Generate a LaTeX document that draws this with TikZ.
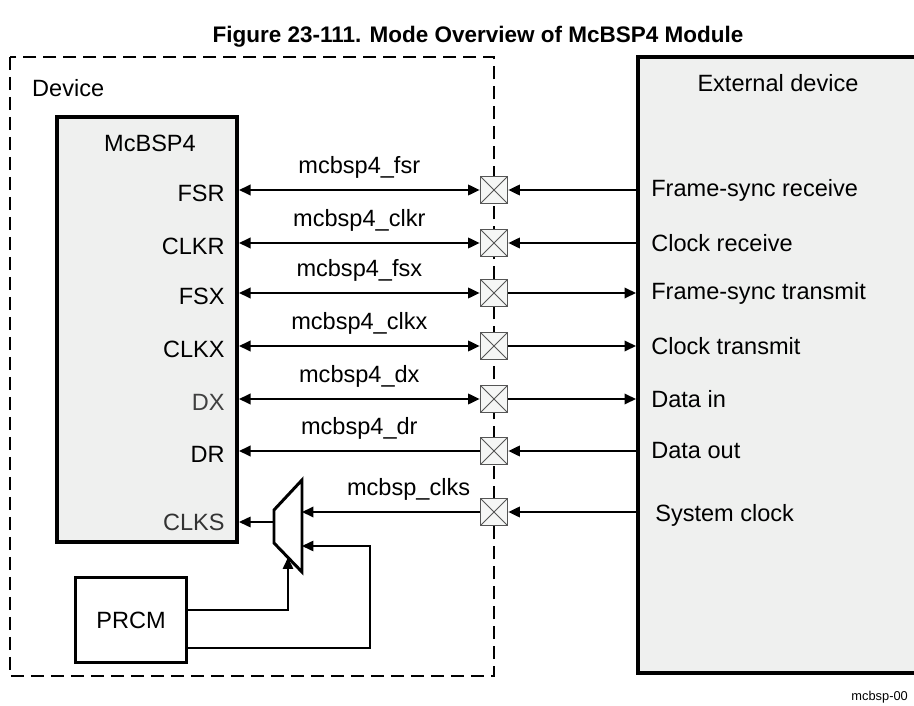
\documentclass[tikz,border=0pt]{standalone}
\usepackage{fontspec}
\setmainfont{Liberation Sans}
\usetikzlibrary{arrows.meta, positioning}
\definecolor{boxgray}{RGB}{239,240,239}
\definecolor{padgray}{RGB}{85,85,85}
\tikzset{
  sig/.style={line width=1.1pt},
  feed/.style={line width=0.85pt},
  pad/.style={draw=padgray, fill=boxgray!60, line width=0.7pt, minimum size=0.55cm, inner sep=0pt,
    path picture={\draw[padgray, line width=0.5pt]
      (path picture bounding box.north west) -- (path picture bounding box.south east)
      (path picture bounding box.south west) -- (path picture bounding box.north east);}},
  pin/.style={anchor=east, inner sep=0pt},
  extlabel/.style={anchor=west, inner sep=0pt},
  block/.style={draw, line width=2.3pt, fill=boxgray},
}

\begin{document}
\begin{tikzpicture}[x=0.02cm, y=-0.02cm, >={Triangle[length=0.23cm,width=0.21cm]},
    every node/.style={font=\fontsize{13.4}{16}\selectfont}]
  \useasboundingbox (0,0) rectangle (914,706);
  \node[font=\bfseries\fontsize{12.8}{15}\selectfont] (title) at (478,37) {Figure 23-111. Mode Overview of McBSP4 Module};

  % device boundary
  \draw[line width=1.5pt, dash pattern=on 0.26cm off 0.14cm] (10,57) rectangle (494,676);
  \node[anchor=west] (device) at (26,88) {Device};

  \node[block, minimum width=3.6cm, minimum height=8.5cm] (mcbsp) at (147,329.5) {};
  \node (mcbspname) at (150,143) {McBSP4};
  \node[block, minimum width=5.56cm, minimum height=12.32cm] (ext) at (777,365) {};
  \node (extname) at (778,83) {External device};

  \foreach \n/\y in {fsr/190, clkr/243, fsx/293, clkx/346, dx/399, dr/451, clks/512}
    \node[pad] (p\n) at (494,\y) {};

  \coordinate (pinx) at (225,3);
  \coordinate (extx) at (651,0);

  % pins of McBSP4
  \foreach \n/\t in {fsr/FSR, clkr/CLKR, fsx/FSX, clkx/CLKX, dr/DR}
    \node[pin] (l\n) at ([yshift=-0.06cm]pinx |- p\n) {\t};
  \node[pin, text=black!75] (ldx) at ([yshift=-0.06cm]pinx |- pdx) {DX};

  % pad to McBSP4
  \foreach \n/\t in {fsr/mcbsp4\_fsr, clkr/mcbsp4\_clkr, fsx/mcbsp4\_fsx, clkx/mcbsp4\_clkx, dx/mcbsp4\_dx}
    \draw[sig, <->] (p\n.west -| mcbsp.east) -- (p\n.west) node[midway, above=3pt] {\t};
  \draw[sig, <-] (pdr.west -| mcbsp.east) -- (pdr.west) node[midway, above=3pt] {mcbsp4\_dr};

  % external device to pad
  \foreach \n in {fsr, clkr, dr, clks}
    \draw[sig, ->] (ext.west |- p\n) -- (p\n.east);
  \foreach \n in {fsx, clkx, dx}
    \draw[sig, ->] (p\n.east) -- (ext.west |- p\n);

  \foreach \n/\t in {fsr/Frame-sync receive, clkr/Clock receive, fsx/Frame-sync transmit,
      clkx/Clock transmit, dx/Data in, dr/Data out}
    \node[extlabel] (e\n) at (extx |- p\n) {\t};
  \node[extlabel] (eclks) at ([xshift=0.08cm, yshift=-0.06cm]extx |- pclks) {System clock};

  % clock mux
  \coordinate (mtl) at (274,510);
  \coordinate (mtr) at (302,480);
  \coordinate (mbr) at (302,572);
  \coordinate (mbl) at (274,543);
  \coordinate (mout) at (274,522);
  \coordinate (msel) at (288,557.5);
  \coordinate (min) at (302,546);
  \coordinate (pbend) at (370,546);
  \draw[line width=1.7pt, line join=miter] (mtl) -- (mtr) -- (mbr) -- (mbl) -- cycle;
  \draw[sig, ->] (pclks.west) -- (pclks.west -| mtr) node[pos=0.4, above=3pt] {mcbsp\_clks};
  \draw[feed, ->] (mout) -- (mout -| mcbsp.east);
  \node[pin, text=black!80] (lclks) at (pinx |- mout) {CLKS};

  \node[draw, line width=1.7pt, minimum width=2.24cm, minimum height=1.72cm] (prcm) at (131,620) {PRCM};
  \draw[feed, ->] ([yshift=0.2cm]prcm.east) -| (msel);
  \draw[feed, ->] ([yshift=-0.56cm]prcm.east) -| (pbend) -- (min);

  \node[anchor=east, font=\fontsize{7.3}{9}\selectfont] (figid) at (914,697) {mcbsp-00};
\end{tikzpicture}
\end{document}
